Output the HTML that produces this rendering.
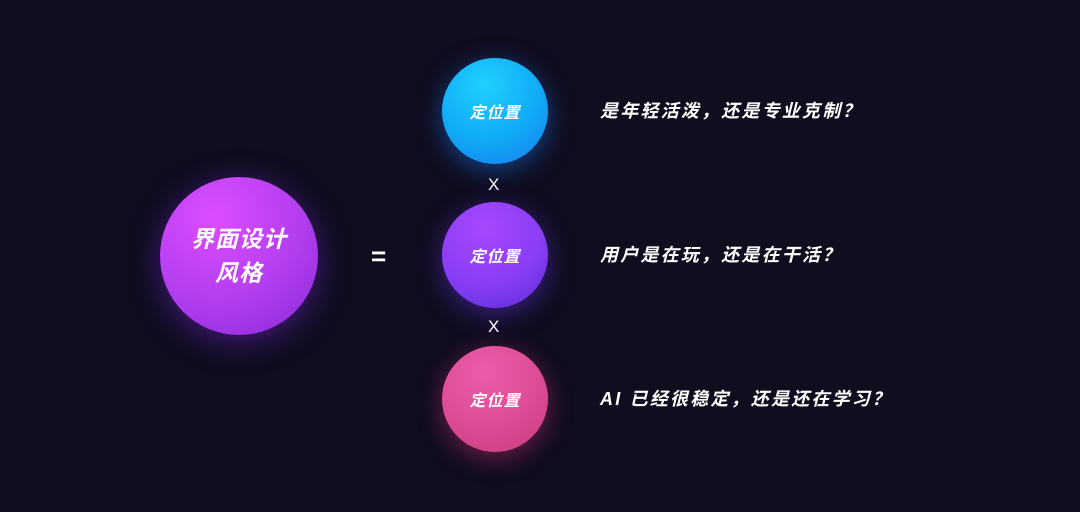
<!DOCTYPE html>
<html><head><meta charset="utf-8"><style>
body{margin:0;width:1080px;height:512px;background:#100d1f;overflow:hidden;position:relative;font-family:"Liberation Sans","Noto Sans CJK SC",sans-serif;color:#fff}
.c{position:absolute;border-radius:50%;display:flex;align-items:center;justify-content:center;font-weight:bold;font-style:italic;text-align:center}
.s{width:106px;height:106px;left:442px;font-size:16px;letter-spacing:1px}
.t{position:absolute;left:600px;font-size:18px;font-weight:bold;font-style:italic;line-height:20px;letter-spacing:2.2px}
.x{position:absolute;left:488px;font-size:17px}
</style></head><body>
<div class="c" style="left:160px;top:177px;width:158px;height:158px;font-size:23px;line-height:34px;letter-spacing:1px;background:radial-gradient(circle at 35% 25%,#dd4cff,#b23ef0 55%,#8a28d8 100%);box-shadow:0 6px 30px rgba(120,40,220,.5)">界面设计<br>风格</div>
<div style="position:absolute;left:371px;top:241px;font-size:26px;font-weight:bold">=</div>
<div class="c s" style="top:58px;background:radial-gradient(circle at 40% 25%,#1ed0ff,#10aaf5 55%,#1a7af0 100%);box-shadow:0 6px 25px rgba(20,120,240,.5)">定位置</div>
<div class="x" style="top:175px">X</div>
<div class="c s" style="top:202px;background:radial-gradient(circle at 40% 25%,#a848ff,#8a3ef5 55%,#5a2ad8 100%);box-shadow:0 6px 25px rgba(100,50,230,.5)">定位置</div>
<div class="x" style="top:317px">X</div>
<div class="c s" style="top:346px;background:radial-gradient(circle at 40% 25%,#ea5ca8,#dc4c96 55%,#c83a7c 100%);box-shadow:0 6px 25px rgba(220,50,120,.45)">定位置</div>
<div class="t" style="top:101px">是年轻活泼，还是专业克制？</div>
<div class="t" style="top:245px">用户是在玩，还是在干活？</div>
<div class="t" style="top:389px">AI 已经很稳定，还是还在学习？</div>
</body></html>
